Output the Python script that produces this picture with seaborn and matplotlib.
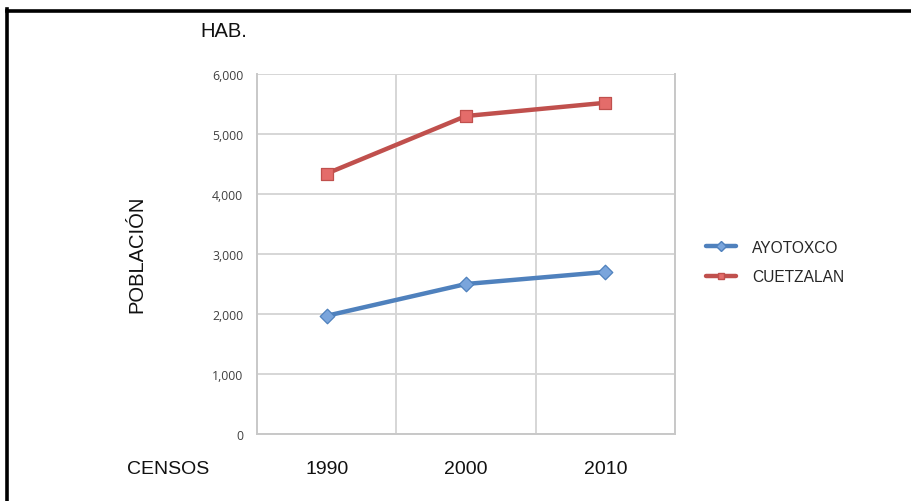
import matplotlib
matplotlib.use("Agg")
import matplotlib.pyplot as plt
from matplotlib.lines import Line2D
import seaborn as sns
import pandas as pd

censos = ["1990", "2000", "2010"]
ayotoxco = [1970, 2500, 2700]
cuetzalan = [4340, 5300, 5520]
series_names = ["AYOTOXCO", "CUETZALAN"]
y_ticks = [0, 1000, 2000, 3000, 4000, 5000, 6000]

df = pd.DataFrame({
    "censo": list(range(len(censos))) * 2,
    "poblacion": ayotoxco + cuetzalan,
    "municipio": [series_names[0]] * 3 + [series_names[1]] * 3,
})

sns.set_style("white")
plt.rcParams["font.family"] = ["Liberation Sans", "DejaVu Sans"]

line_colors = {"AYOTOXCO": "#4f81bd", "CUETZALAN": "#c0504d"}
face_colors = {"AYOTOXCO": "#7aa5dc", "CUETZALAN": "#e46c6a"}
marker_shapes = {"AYOTOXCO": "D", "CUETZALAN": "s"}

fig = plt.figure(figsize=(9.12, 5.02), dpi=100)
ax = fig.add_axes([257 / 912, 1 - 435 / 502, 418 / 912, 360 / 502])

sns.lineplot(data=df, x="censo", y="poblacion", hue="municipio",
             palette=line_colors, linewidth=3.2, legend=False, ax=ax,
             zorder=3)
for name, vals in zip(series_names, [ayotoxco, cuetzalan]):
    ax.scatter(range(len(censos)), vals, marker=marker_shapes[name],
               s=70 if name == "CUETZALAN" else 55,
               facecolor=face_colors[name], edgecolor=line_colors[name],
               linewidth=0.9, zorder=4)

ax.set_xlim(-0.5, 2.5)
ax.set_ylim(0, 6000)
ax.set_yticks(y_ticks)
ax.set_yticklabels([f"{v:,}" for v in y_ticks], fontsize=8.8,
                   color="#404040", family=["Open Sans", "DejaVu Sans"])
ax.set_xticks(range(len(censos)))
ax.set_xticklabels(censos, fontsize=14, color="#111111")
ax.tick_params(axis="x", length=0, pad=19)
ax.set_xticks([0.5, 1.5, 2.5], minor=True)
ax.tick_params(axis="x", which="minor", length=4, color="#c8c8c8",
               width=1.3, direction="out")
ax.tick_params(axis="y", length=4, color="#c8c8c8", width=1.3,
               direction="out", pad=6)

ax.yaxis.grid(True, color="#d6d6d6", linewidth=1.4)
ax.xaxis.grid(True, which="minor", color="#d6d6d6", linewidth=1.4)
ax.xaxis.grid(False, which="major")
ax.set_axisbelow(True)
for side in ["left", "bottom", "right"]:
    ax.spines[side].set_color("#c8c8c8")
    ax.spines[side].set_linewidth(1.4)
ax.spines["top"].set_visible(False)
ax.set_xlabel("")
ax.set_ylabel("")

fig.text(200 / 912, 1 - 32 / 502, "HAB.", fontsize=14.5, va="center",
         ha="left", color="#111111")
fig.text(137 / 912, 1 - 254 / 502, "POBLACIÓN", fontsize=14.5,
         rotation=90, va="center", ha="center", color="#111111")
fig.text(168 / 912, 1 - 470 / 502, "CENSOS", fontsize=14, va="center",
         ha="center", color="#111111")

handles = [Line2D([], [], color=line_colors[n], linewidth=3.2,
                  marker=marker_shapes[n], markersize=5,
                  markerfacecolor=face_colors[n],
                  markeredgecolor=line_colors[n]) for n in series_names]
fig.legend(handles, series_names, loc="center left",
           bbox_to_anchor=(692 / 912, 1 - 263 / 502), frameon=False,
           fontsize=11.2, handlelength=1.9, labelspacing=0.95,
           handletextpad=1.05)

# page frame: top and left rules
fig.add_artist(Line2D([7.5 / 912, 7.5 / 912], [0, 1 - 10 / 502],
                      transform=fig.transFigure, color="black",
                      linewidth=2.6, solid_capstyle="projecting"))
fig.add_artist(Line2D([7.5 / 912, 1], [1 - 11.5 / 502, 1 - 11.5 / 502],
                      transform=fig.transFigure, color="black",
                      linewidth=2.6, solid_capstyle="projecting"))

fig.savefig("out.png", dpi=100)
